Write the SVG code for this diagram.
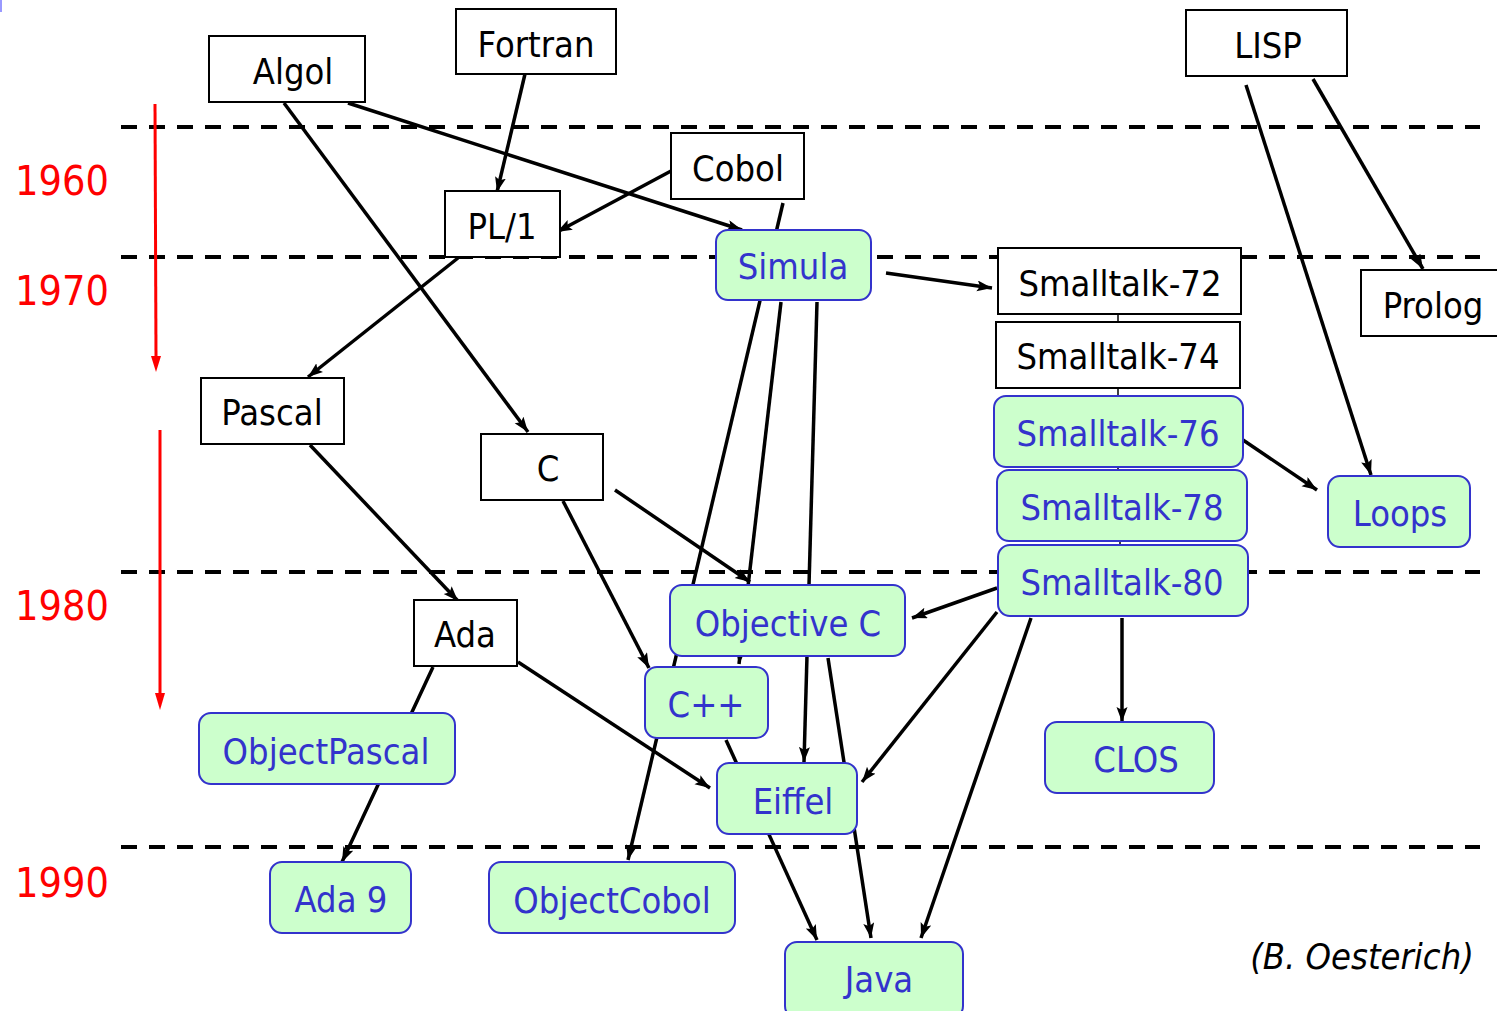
<svg xmlns="http://www.w3.org/2000/svg" width="1497" height="1011" viewBox="0 0 1497 1011">
<style>
.box{fill:#fff;stroke:#000;stroke-width:2}
.oo{fill:#ccffcc;stroke:#3333cc;stroke-width:2}
.t{font-family:"DejaVu Sans Condensed","DejaVu Sans",sans-serif;font-size:36px;text-anchor:middle;fill:#000}
.b{fill:#3333cc}
.yr{font-family:"DejaVu Sans Condensed","DejaVu Sans",sans-serif;font-size:41px;text-anchor:middle;fill:#ff0000}
.dash{stroke:#000;stroke-width:4;stroke-dasharray:16 12;fill:none}
.c{stroke:#000;stroke-width:3.5;fill:none;marker-end:url(#ah)}
.thin{stroke:#000;stroke-width:1.5}
</style>
<defs>
<marker id="ah" markerUnits="userSpaceOnUse" markerWidth="16" markerHeight="12" refX="15" refY="5.5" orient="auto">
<path d="M0,0 L15,5.5 L0,11 L3,5.5 z" fill="#000"/>
</marker>
</defs>
<rect width="1497" height="1011" fill="#fff"/>
<rect x="0" y="0" width="2" height="12" fill="#9999ff"/>
<g id="timeline">
<line class="dash" x1="121" y1="127" x2="1480" y2="127"/>
<line class="dash" x1="121" y1="257" x2="1480" y2="257"/>
<line class="dash" x1="121" y1="572" x2="1480" y2="572"/>
<line class="dash" x1="121" y1="847" x2="1480" y2="847"/>
<line x1="155" y1="104" x2="156" y2="358" stroke="#ff0000" stroke-width="3"/>
<polygon points="151,356 161,356 156,372" fill="#ff0000"/>
<line x1="160" y1="430" x2="160" y2="695" stroke="#ff0000" stroke-width="3"/>
<polygon points="155,693 165,693 160,710" fill="#ff0000"/>
<text class="yr" x="62" y="195">1960</text>
<text class="yr" x="62" y="305">1970</text>
<text class="yr" x="62" y="620">1980</text>
<text class="yr" x="62" y="897">1990</text>
</g>
<g id="connectors">
<line class="c" x1="525" y1="74" x2="497" y2="192"/>
<line class="c" x1="671" y1="171" x2="557" y2="232"/>
<line class="c" x1="348" y1="103" x2="742" y2="230"/>
<line class="c" x1="284" y1="103" x2="528" y2="432"/>
<line class="c" x1="458" y1="258" x2="308" y2="377"/>
<line class="c" x1="783" y1="203" x2="628" y2="860"/>
<line class="c" x1="781" y1="302" x2="739" y2="664"/>
<line class="c" x1="817" y1="302" x2="804" y2="762"/>
<line class="c" x1="886" y1="273" x2="992" y2="288"/>
<line class="c" x1="1246" y1="85" x2="1371" y2="475"/>
<line class="c" x1="1313" y1="79" x2="1423" y2="269"/>
<line class="c" x1="1243" y1="440" x2="1317" y2="490"/>
<line class="c" x1="310" y1="445" x2="458" y2="601"/>
<line class="c" x1="615" y1="490" x2="750" y2="582"/>
<line class="c" x1="563" y1="501" x2="649" y2="668"/>
<line class="c" x1="433" y1="667" x2="342" y2="862"/>
<line class="c" x1="518" y1="662" x2="710" y2="788"/>
<line class="c" x1="828" y1="658" x2="871" y2="938"/>
<line class="c" x1="726" y1="740" x2="817" y2="940"/>
<line class="c" x1="997" y1="588" x2="912" y2="618"/>
<line class="c" x1="997" y1="612" x2="862" y2="782"/>
<line class="c" x1="1031" y1="618" x2="921" y2="938"/>
<line class="c" x1="1122" y1="618" x2="1122" y2="722"/>
<line class="thin" x1="1118" y1="314" x2="1118" y2="322"/>
<line class="thin" x1="1118" y1="388" x2="1118" y2="396"/>
<line class="thin" x1="1118" y1="467" x2="1118" y2="471"/>
<line class="thin" x1="1120" y1="541" x2="1120" y2="545"/>
</g>
<g id="algol"><rect class="box" x="209" y="36" width="156" height="66"/><text class="t" x="293" y="84">Algol</text></g>
<g id="fortran"><rect class="box" x="456" y="9" width="160" height="65"/><text class="t" x="536" y="57">Fortran</text></g>
<g id="lisp"><rect class="box" x="1186" y="10" width="161" height="66"/><text class="t" x="1268" y="58">LISP</text></g>
<g id="cobol"><rect class="box" x="671" y="133" width="133" height="66"/><text class="t" x="738" y="181">Cobol</text></g>
<g id="pl1"><rect class="box" x="445" y="191" width="115" height="66"/><text class="t" x="502" y="239">PL/1</text></g>
<g id="simula"><rect class="oo" x="716" y="230" width="155" height="70" rx="12"/><text class="t b" x="793" y="279">Simula</text></g>
<g id="smalltalk72"><rect class="box" x="998" y="248" width="243" height="66"/><text class="t" x="1120" y="296">Smalltalk-72</text></g>
<g id="prolog"><rect class="box" x="1361" y="270" width="150" height="66"/><text class="t" x="1433" y="318">Prolog</text></g>
<g id="smalltalk74"><rect class="box" x="996" y="322" width="244" height="66"/><text class="t" x="1118" y="369">Smalltalk-74</text></g>
<g id="smalltalk76"><rect class="oo" x="994" y="396" width="249" height="71" rx="12"/><text class="t b" x="1118" y="446">Smalltalk-76</text></g>
<g id="smalltalk78"><rect class="oo" x="997" y="470" width="250" height="71" rx="12"/><text class="t b" x="1122" y="520">Smalltalk-78</text></g>
<g id="smalltalk80"><rect class="oo" x="998" y="545" width="250" height="71" rx="12"/><text class="t b" x="1122" y="595">Smalltalk-80</text></g>
<g id="loops"><rect class="oo" x="1328" y="476" width="142" height="71" rx="12"/><text class="t b" x="1400" y="526">Loops</text></g>
<g id="pascal"><rect class="box" x="201" y="378" width="143" height="66"/><text class="t" x="272" y="425">Pascal</text></g>
<g id="c"><rect class="box" x="481" y="434" width="122" height="66"/><text class="t" x="548" y="481">C</text></g>
<g id="ada"><rect class="box" x="414" y="600" width="103" height="66"/><text class="t" x="465" y="647">Ada</text></g>
<g id="objectivec"><rect class="oo" x="670" y="585" width="235" height="71" rx="12"/><text class="t b" x="788" y="636">Objective C</text></g>
<g id="cpp"><rect class="oo" x="645" y="667" width="123" height="71" rx="12"/><text class="t b" x="706" y="717">C++</text></g>
<g id="objectpascal"><rect class="oo" x="199" y="713" width="256" height="71" rx="12"/><text class="t b" x="326" y="764">ObjectPascal</text></g>
<g id="eiffel"><rect class="oo" x="717" y="763" width="140" height="71" rx="12"/><text class="t b" x="793" y="814">Eiffel</text></g>
<g id="clos"><rect class="oo" x="1045" y="722" width="169" height="71" rx="12"/><text class="t b" x="1136" y="772">CLOS</text></g>
<g id="ada9"><rect class="oo" x="270" y="862" width="141" height="71" rx="12"/><text class="t b" x="341" y="912">Ada 9</text></g>
<g id="objectcobol"><rect class="oo" x="489" y="862" width="246" height="71" rx="12"/><text class="t b" x="612" y="913">ObjectCobol</text></g>
<g id="java"><rect class="oo" x="785" y="942" width="178" height="76" rx="12"/><text class="t b" x="879" y="992">Java</text></g>
<text class="t" x="1362" y="969" font-style="italic" font-size="37">(B. Oesterich)</text>
</svg>
